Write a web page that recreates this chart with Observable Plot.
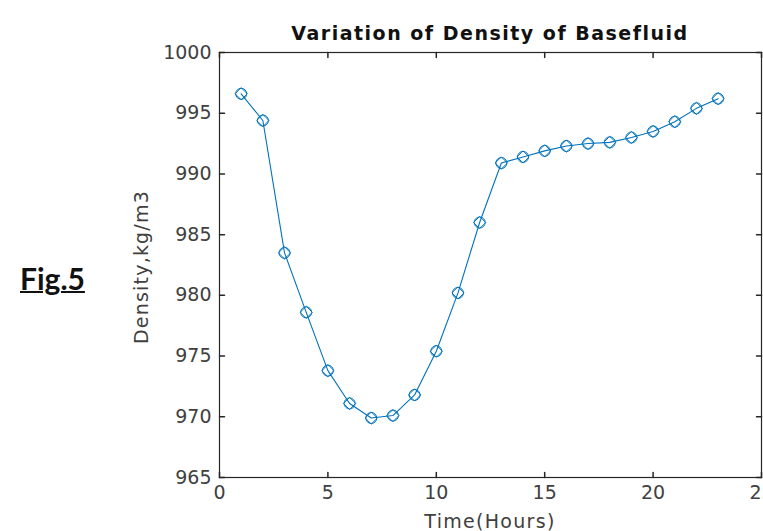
<!DOCTYPE html>
<html>
<head>
<meta charset="utf-8">
<script src="https://cdn.jsdelivr.net/npm/d3@7"></script>
<script src="https://cdn.jsdelivr.net/npm/@observablehq/plot@0.6"></script>
<style>
  html, body { margin: 0; padding: 0; background: #fff; }
  #wrap { position: relative; width: 763px; height: 531px; overflow: hidden; }
  .lbl { position: absolute; font-family: "DejaVu Sans", sans-serif; color: #262626; white-space: nowrap; line-height: 1; }
  #title { left: 490px; top: 24px; transform: translateX(-50%); font-size: 19px; font-weight: bold; color: #111; letter-spacing: 1.5px; }
  #xlabel { left: 490px; top: 512px; transform: translateX(-50%); font-size: 19px; color: #404040; letter-spacing: 1.3px; }
  #ylabel { left: 141px; top: 267px; transform: translate(-50%, -50%) rotate(-90deg); font-size: 19px; color: #404040; letter-spacing: 1.2px; }
  #fig { position: absolute; left: 20px; top: 263px; line-height: 1; font-family: "Lato", sans-serif; font-weight: bold; font-size: 30px; text-decoration: underline; text-decoration-thickness: 2px; color: #111; }
</style>
</head>
<body>
<div id="wrap">
  <div id="chart"></div>
  <div class="lbl" id="title">Variation of Density of Basefluid</div>
  <div class="lbl" id="xlabel">Time(Hours)</div>
  <div class="lbl" id="ylabel">Density,kg/m3</div>
  <div id="fig">Fig.5</div>
</div>
<script>
const hours = [1,2,3,4,5,6,7,8,9,10,11,12,13,14,15,16,17,18,19,20,21,22,23];
const density = [996.6,994.4,983.5,978.6,973.8,971.1,969.9,970.1,971.8,975.4,980.2,986.0,990.9,991.4,991.9,992.3,992.5,992.6,993.0,993.5,994.3,995.4,996.2];
const xTicks = [0,5,10,15,20,25];
const yTicks = [965,970,975,980,985,990,995,1000];

const data = hours.map((h, i) => ({h, d: density[i]}));
const blue = "#0072BD";
const axisColor = "#262626";
const tickShape = {draw(ctx, l) { ctx.moveTo(0, 0); ctx.lineTo(0, -l); }};

const chart = Plot.plot({
  width: 763,
  height: 531,
  marginLeft: 219,
  marginRight: 2,
  marginTop: 52,
  marginBottom: 54,
  style: {fontFamily: "DejaVu Sans, sans-serif", background: "#fff", overflow: "visible"},
  x: {domain: [0, 25]},
  y: {domain: [965, 1000]},
  marks: [
    Plot.axisX(xTicks, {tickSize: 0, tickPadding: 8, fontSize: 19, fill: "#404040", label: null, tickFormat: d => String(d)}),
    Plot.axisY(yTicks, {tickSize: 0, tickPadding: 8, fontSize: 19, fill: "#404040", label: null, tickFormat: d => String(d)}),
    Plot.vector(xTicks, {x: d => d, y: 965, length: 5, rotate: 0, anchor: "start", shape: tickShape, stroke: axisColor}),
    Plot.vector(xTicks, {x: d => d, y: 1000, length: 5, rotate: 180, anchor: "start", shape: tickShape, stroke: axisColor}),
    Plot.vector(yTicks, {x: 0, y: d => d, length: 5, rotate: 90, anchor: "start", shape: tickShape, stroke: axisColor}),
    Plot.vector(yTicks, {x: 25, y: d => d, length: 5, rotate: -90, anchor: "start", shape: tickShape, stroke: axisColor}),
    Plot.frame({stroke: axisColor, strokeWidth: 1.2}),
    Plot.line(data, {x: "h", y: "d", stroke: blue, strokeWidth: 1.1}),
    Plot.dot(data, {x: "h", y: "d", symbol: "circle", r: 5.5, stroke: blue, strokeWidth: 1, fill: "none"}),
    Plot.dot(data, {x: "h", y: "d", symbol: d3.symbolDiamond2, r: 5.5, stroke: blue, strokeWidth: 1, fill: "none"})
  ]
});
document.getElementById("chart").appendChild(chart);
</script>
</body>
</html>
